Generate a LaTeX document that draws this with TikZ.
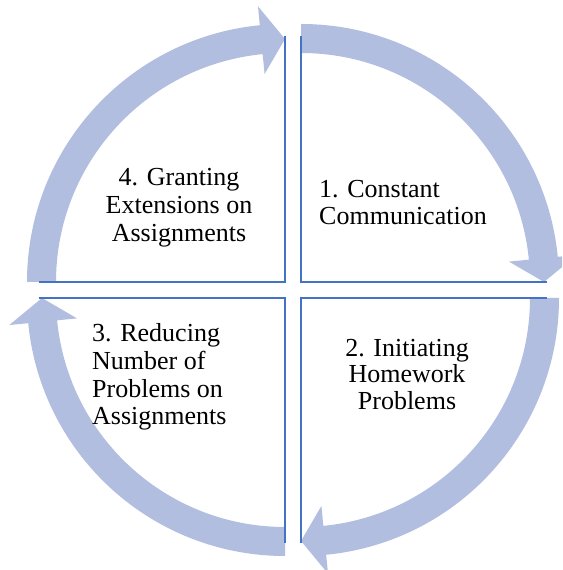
\documentclass[tikz,border=0pt]{standalone}
\usepackage{fontspec}
\setmainfont{Liberation Serif}
\definecolor{ringcol}{RGB}{178,190,224}
\definecolor{edgecol}{HTML}{4472C4}
\newcommand\cyclearrow[2]{% #1 centre, #2 start angle (clockwise 90 deg)
  \begin{scope}[shift={#1}]
    \pgfmathsetmacro\arrEnd{#2-90}
    \pgfmathsetmacro\arrHead{#2-90+5.6}
    \fill[ringarrow] (#2:258) arc[start angle=#2, end angle=\arrHead, radius=258]
      -- (\arrHead:277) -- (\arrEnd:243) -- (\arrHead:209) -- (\arrHead:229)
      arc[start angle=\arrHead, end angle=#2, radius=229] -- cycle;
  \end{scope}}
\begin{document}
\begin{tikzpicture}[x=1pt,y=1pt,
  ringarrow/.style={fill=ringcol, draw=none},
  quadedge/.style={draw=edgecol, line width=2.4pt},
  lbl/.style={font=\fontsize{26}{28}\selectfont, inner sep=0pt, text=black}]
\clip (0,0) rectangle (562,570);
\fill[white] (0,0) rectangle (562,570);
% ring arrows
\cyclearrow{(301,288)}{90}
\cyclearrow{(301,272)}{0}
\cyclearrow{(285,272)}{-90}
\cyclearrow{(285,288)}{180}
% quadrant edges
\draw[quadedge] (301,534) -- (301,288) -- (547,288);
\draw[quadedge] (547,272) -- (301,272) -- (301,27);
\draw[quadedge] (285,27) -- (285,272) -- (39,272);
\draw[quadedge] (39,288) -- (285,288) -- (285,534);
% labels
\node[lbl, anchor=base] (t4a) at (179,384) {4. Granting};
\node[lbl, anchor=base] (t4b) at (179,356) {Extensions on};
\node[lbl, anchor=base] (t4c) at (179,328) {Assignments};
\node[lbl, anchor=base west] (t1a) at (319,372) {1. Constant};
\node[lbl, anchor=base west] (t1b) at (319,345) {Communication};
\node[lbl, anchor=base] (t2a) at (407,213) {2. Initiating};
\node[lbl, anchor=base] (t2b) at (407,187) {Homework};
\node[lbl, anchor=base] (t2c) at (407,160) {Problems};
\node[lbl, anchor=base west] (t3a) at (92,228) {3. Reducing};
\node[lbl, anchor=base west] (t3b) at (92,200) {Number of};
\node[lbl, anchor=base west] (t3c) at (92,172) {Problems on};
\node[lbl, anchor=base west] (t3d) at (92,145) {Assignments};
\end{tikzpicture}
\end{document}
